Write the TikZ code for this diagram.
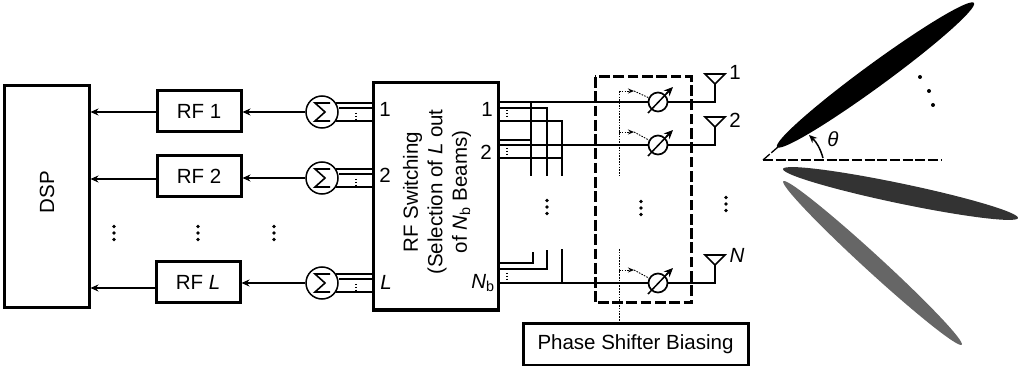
\documentclass[tikz,border=0pt]{standalone}
\usepackage{fontspec}
\setmainfont{Liberation Sans}
\usetikzlibrary{arrows.meta}
\tikzset{
  x=1pt,y=-1pt,
  txt/.style={inner sep=0pt,font=\fontsize{20.5}{24.5}\selectfont},
  rot/.style={txt,rotate=90,align=center},
  blk/.style={draw,line width=3pt,inner sep=0pt,align=center,font=\fontsize{20.5}{24.5}\selectfont},
  sumc/.style={draw,circle,line width=1.5pt,minimum size=32pt,inner sep=0pt},
  psc/.style={draw,circle,line width=1.7pt,minimum size=19pt,inner sep=0pt},
  wire/.style={line width=1.6pt},
  hwire/.style={line width=2pt},
  arr/.style={line width=1.3pt,-{Stealth[length=8pt,width=7pt]}},
  dot/.style={fill,circle,inner sep=0pt,minimum size=4pt},
  vdot/.style={fill,circle,inner sep=0pt,minimum size=3.6pt},
  tiny/.style={line width=1.3pt,dash pattern=on 1.4pt off 1.4pt},
  bias/.style={line width=0.9pt,dash pattern=on 1.6pt off 1.2pt}
}
\begin{document}
\begin{tikzpicture}
\useasboundingbox (0,0) rectangle (1018,366);
% boxes
\node[blk,minimum width=85pt,minimum height=222pt] (dsp) at (46.5,197) {};
\node[rot] (dsptxt) at (47,192) {DSP};
\node[blk,minimum width=84pt,minimum height=41pt] (rf1) at (199,111.5) {RF 1};
\node[blk,minimum width=84pt,minimum height=41pt] (rf2) at (199,176.5) {RF 2};
\node[blk,minimum width=84pt,minimum height=41pt] (rfl) at (198,282.5) {RF \textit{L}};
\node[blk,minimum width=125pt,minimum height=227pt] (sw) at (435.5,196.5) {};
\node[rot] (swtxt) at (437,192) {RF Switching\\(Selection of \textit{L} out\\of \textit{N}\textsubscript{b} Beams)};
\node[blk,minimum width=225pt,minimum height=42pt] (bias) at (635.5,344) {Phase Shifter Biasing};
% summers
\foreach \n/\y in {1/112,2/178,l/283}{
  \node[sumc] (s\n) at (322,\y) {};
  \draw[line width=1.6pt] ([shift={(8,-9)}]s\n.center) -- ([shift={(-7,-9)}]s\n.center) -- ([shift={(3,0)}]s\n.center) -- ([shift={(-7,9)}]s\n.center) -- ([shift={(8,9)}]s\n.center);
  \draw[wire] ([yshift=9pt]s\n.center -| s\n.east) ++(-3,0) -- ([yshift=9pt]s\n.center -| sw.west);
  \draw[wire] ([yshift=4pt]s\n.center -| s\n.east) -- ([yshift=4pt]s\n.center -| sw.west);
  \draw[wire] ([yshift=-9pt]s\n.center -| s\n.east) ++(-3,0) -- ([yshift=-9pt]s\n.center -| sw.west);
  \draw[tiny] ([yshift=-1pt]s\n.center -| 356,0) -- ([yshift=-7pt]s\n.center -| 356,0);
}
% arrows
\draw[arr] (s1) -- (s1 -| rf1.east);
\draw[arr] (s2) -- (s2 -| rf2.east);
\draw[arr] (sl) -- (sl -| rfl.east);
\coordinate (d1) at (rf1.west |- 0,112);
\coordinate (d2) at (rf2.west |- 0,179);
\coordinate (d3) at (rfl.west |- 0,288);
\draw[arr] (d1) -- (d1 -| dsp.east);
\draw[arr] (d2) -- (d2 -| dsp.east);
\draw[arr] (d3) -- (d3 -| dsp.east);
% phase shifters and antennas
\foreach \n/\y/\ty/\by in {1/102/74/91,2/145/117/132,3/283/255/270}{
  \node[psc] (p\n) at (658,\y) {};
  \coordinate (a\n) at (715,\y);
  \coordinate (t\n) at (715,\ty);
  \coordinate (b\n) at (619,\by);
  \coordinate (c\n) at (634,\by);
  \draw[hwire] (sw.east |- p\n) -- (p\n);
  \draw[wire] (p\n) -- (a\n) -- ([yshift=-10pt]t\n);
  \draw[wire] ([yshift=-10pt]t\n) -- ([xshift=-10pt]t\n) -- ([xshift=10pt]t\n) -- cycle;
  \draw[line width=1.5pt] ([shift={(-10,11)}]p\n.center) -- ([shift={(10,-10)}]p\n.center);
  \draw[line width=1.5pt,-{Stealth[length=9pt,width=8pt]}] ([shift={(8,-8)}]p\n.center) -- ([shift={(15,-15)}]p\n.center);
  \draw[bias,-{Stealth[length=6pt,width=5pt]}] (b\n) -- (c\n);
  \draw[bias] (c\n) -- (p\n);
}
% dashed box
\draw[line width=3pt,dash pattern=on 10.7pt off 3.6pt] (595,77) rectangle (691,303);
% biasing dotted
\coordinate (bt) at (619,176);
\coordinate (bb) at (619,249);
\draw[bias] (b1) -- (bt);
\draw[bias] (bb) -- (bb |- bias.north);
% switch output bus
\draw[wire] (sw.east |- 0,108) -- (547,108) -- (547,176);
\draw[wire] (sw.east |- 0,121) -- (562,121) -- (562,176);
\draw[wire] (531,102) -- (531,176);
\draw[wire] (sw.east |- 0,140) -- (531,140);
\draw[wire] (sw.east |- 0,158) -- (562,158);
\draw[wire] (sw.east |- 0,263) -- (533,263) -- (533,252);
\draw[wire] (sw.east |- 0,269) -- (547,269) -- (547,250);
\draw[wire] (562,283) -- (562,249);
\foreach \y in {110,148,273}{\draw[tiny] (507,\y) -- (507,\y+8);}
% labels
\node[txt] (l1) at (385,109) {1};
\node[txt] (l2) at (385,175) {2};
\node[txt] (l3) at (386,282) {\textit{L}};
\node[txt] (r1) at (487,109) {1};
\node[txt] (r2) at (486,152) {2};
\node[txt] (r3) at (483,283) {\textit{N}\textsubscript{b}};
\node[txt] (n1) at (735,72) {1};
\node[txt] (n2) at (735,120) {2};
\node[txt] (n3) at (737,255) {\textit{N}};
\node[txt] (th) at (833,139) {\textit{θ}};
% vertical dots
\foreach \x/\y in {114/233,198/233,274/233,547/207,641/208,726/204}{
  \foreach \d in {-6.5,0,6.5}{\node[vdot] at (\x,\y+\d) {};}
}
% beams
\fill[black,rotate around={36.2:(875.5,75)}] (875.5,75) ellipse (122 and 11.5);
\fill[black!80,rotate around={-11.8:(900.5,193.5)}] (900.5,193.5) ellipse (120 and 10);
\fill[black!60,rotate around={-42.5:(872.5,263)}] (872.5,263) ellipse (121 and 8.5);
\coordinate (o) at (763,160);
\coordinate (ox) at (941,160);
\coordinate (ob) at (778,147);
\draw[line width=1.5pt,dash pattern=on 10pt off 2.7pt] (o) -- (ox);
\draw[line width=1.3pt,dash pattern=on 9pt off 2pt] (o) -- (ob);
\coordinate (aa) at (823,158);
\coordinate (ab) at (809,135);
\draw[line width=1.5pt,-{Stealth[length=8pt,width=7pt]}] (aa) to[bend right=15] (ab);
\node[dot] at (920,77) {};
\node[dot] at (929,91) {};
\node[dot] at (933,105) {};
\end{tikzpicture}
\end{document}
